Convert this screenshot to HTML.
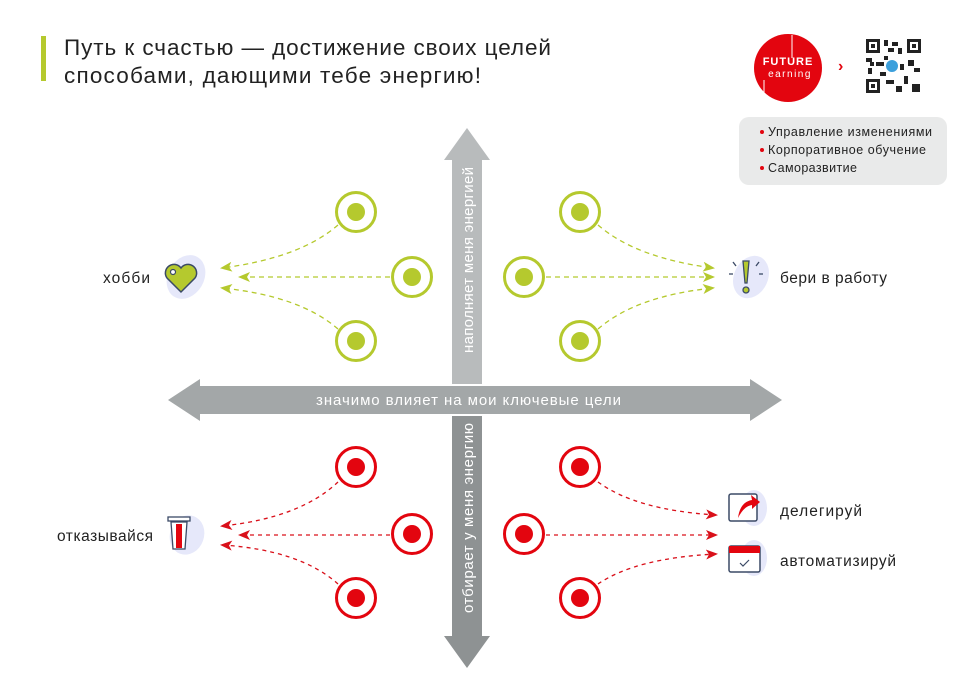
<!DOCTYPE html>
<html><head><meta charset="utf-8"><style>
body{margin:0;background:#fff;width:977px;height:689px;overflow:hidden;font-family:"Liberation Sans","DejaVu Sans",sans-serif}
</style></head><body>
<svg width="977" height="689" viewBox="0 0 977 689" xmlns="http://www.w3.org/2000/svg" font-family="Liberation Sans, DejaVu Sans, sans-serif">
<defs>
<marker id="ag" viewBox="0 0 12 10" refX="10" refY="5" markerWidth="12" markerHeight="10" markerUnits="userSpaceOnUse" orient="auto"><path d="M0,0 L12,5 L0,10 L3,5 Z" fill="#b5c92e"/></marker>
<marker id="ar" viewBox="0 0 12 10" refX="10" refY="5" markerWidth="12" markerHeight="10" markerUnits="userSpaceOnUse" orient="auto"><path d="M0,0 L12,5 L0,10 L3,5 Z" fill="#d9101a"/></marker>
</defs>
<rect x="41" y="36" width="5" height="45" fill="#b5c92e"/>
<text x="64" y="55" font-size="22.5" fill="#222" textLength="487" lengthAdjust="spacing">Путь к счастью — достижение своих целей</text>
<text x="64" y="83" font-size="22.5" fill="#222" textLength="417" lengthAdjust="spacing">способами, дающими тебе энергию!</text>
<!-- logo -->
<circle cx="788" cy="68" r="34" fill="#e3050f"/>
<line x1="792" y1="35" x2="792" y2="58" stroke="#fff" stroke-width="1"/>
<line x1="764" y1="80" x2="764" y2="98" stroke="#fff" stroke-width="1"/>
<text x="788" y="65" font-size="11" fill="#fff" text-anchor="middle" font-weight="bold" letter-spacing="1">FUTURE</text>
<text x="790" y="77" font-size="10" fill="#fff" text-anchor="middle" letter-spacing="1.5">earning</text>
<text x="838" y="71" font-size="16" fill="#e3050f" font-weight="bold">›</text>
<g fill="#222">
<rect x="865" y="38" width="58" height="56" fill="#fff"/>
<rect x="866" y="39" width="14" height="14"/><rect x="869" y="42" width="8" height="8" fill="#fff"/><rect x="871" y="44" width="4" height="4"/>
<rect x="907" y="39" width="14" height="14"/><rect x="910" y="42" width="8" height="8" fill="#fff"/><rect x="912" y="44" width="4" height="4"/>
<rect x="866" y="79" width="14" height="14"/><rect x="869" y="82" width="8" height="8" fill="#fff"/><rect x="871" y="84" width="4" height="4"/>
<rect x="884" y="40" width="4" height="6"/><rect x="892" y="42" width="6" height="4"/><rect x="898" y="48" width="4" height="6"/>
<rect x="866" y="58" width="6" height="4"/><rect x="876" y="62" width="8" height="4"/><rect x="868" y="68" width="4" height="6"/>
<rect x="908" y="60" width="6" height="6"/><rect x="914" y="68" width="6" height="4"/><rect x="904" y="76" width="4" height="8"/>
<rect x="886" y="80" width="8" height="4"/><rect x="896" y="86" width="6" height="6"/><rect x="912" y="84" width="8" height="8"/>
<rect x="884" y="56" width="4" height="4"/><rect x="880" y="72" width="6" height="4"/>
<rect x="888" y="48" width="6" height="4"/><rect x="900" y="64" width="4" height="6"/><rect x="870" y="62" width="4" height="4"/>
</g>
<circle cx="892" cy="66" r="6" fill="#3ca0dc"/>
<rect x="739" y="117" width="208" height="68" rx="10" fill="#e9eaea"/>
<g font-size="12.5" fill="#222">
<circle cx="762" cy="132" r="2" fill="#e3050f"/><text x="768" y="136" textLength="164" lengthAdjust="spacing">Управление изменениями</text>
<circle cx="762" cy="150" r="2" fill="#e3050f"/><text x="768" y="154" textLength="158" lengthAdjust="spacing">Корпоративное обучение</text>
<circle cx="762" cy="168" r="2" fill="#e3050f"/><text x="768" y="172" textLength="89" lengthAdjust="spacing">Саморазвитие</text>
</g>
<!-- axes -->
<polygon points="467,128 490,160 482,160 482,384 452,384 452,160 444,160" fill="#b8bbbc"/>
<polygon points="467,668 490,636 482,636 482,416 452,416 452,636 444,636" fill="#8e9293"/>
<polygon points="168,400 200,379 200,386 750,386 750,379 782,400 750,421 750,414 200,414 200,421" fill="#a3a7a8"/>
<text x="316" y="405" font-size="15" fill="#fff" textLength="305" lengthAdjust="spacing">значимо влияет на мои ключевые цели</text>
<text transform="translate(473,353) rotate(-90)" font-size="15" fill="#fff" textLength="186" lengthAdjust="spacing">наполняет меня энергией</text>
<text transform="translate(473,613) rotate(-90)" font-size="15" fill="#fff" textLength="190" lengthAdjust="spacing">отбирает у меня энергию</text>
<!-- green arrows -->
<g fill="none" stroke="#b5c92e" stroke-width="1.3" stroke-dasharray="5,4">
<path d="M338,225 Q300,258 222,268" marker-end="url(#ag)"/>
<path d="M390,277 L240,277" marker-end="url(#ag)"/>
<path d="M338,329 Q300,296 222,288" marker-end="url(#ag)"/>
<path d="M598,225 Q636,258 713,268" marker-end="url(#ag)"/>
<path d="M546,277 L713,277" marker-end="url(#ag)"/>
<path d="M598,329 Q636,296 713,288" marker-end="url(#ag)"/>
</g>
<g fill="none" stroke="#d9101a" stroke-width="1.3" stroke-dasharray="4,4">
<path d="M338,482 Q300,518 222,526" marker-end="url(#ar)"/>
<path d="M390,535 L240,535" marker-end="url(#ar)"/>
<path d="M338,584 Q300,550 222,545" marker-end="url(#ar)"/>
<path d="M598,482 Q636,510 716,515" marker-end="url(#ar)"/>
<path d="M546,535 L716,535" marker-end="url(#ar)"/>
<path d="M598,584 Q636,558 716,554" marker-end="url(#ar)"/>
</g>
<!-- circles -->
<g fill="#fff" stroke="#b5c92e" stroke-width="3">
<circle cx="356" cy="212" r="19.5"/><circle cx="412" cy="277" r="19.5"/><circle cx="356" cy="341" r="19.5"/>
<circle cx="580" cy="212" r="19.5"/><circle cx="524" cy="277" r="19.5"/><circle cx="580" cy="341" r="19.5"/>
</g>
<g fill="#b5c92e">
<circle cx="356" cy="212" r="9"/><circle cx="412" cy="277" r="9"/><circle cx="356" cy="341" r="9"/>
<circle cx="580" cy="212" r="9"/><circle cx="524" cy="277" r="9"/><circle cx="580" cy="341" r="9"/>
</g>
<g fill="#fff" stroke="#e3050f" stroke-width="3">
<circle cx="356" cy="467" r="19.5"/><circle cx="412" cy="534" r="19.5"/><circle cx="356" cy="598" r="19.5"/>
<circle cx="580" cy="467" r="19.5"/><circle cx="524" cy="534" r="19.5"/><circle cx="580" cy="598" r="19.5"/>
</g>
<g fill="#e3050f">
<circle cx="356" cy="467" r="9"/><circle cx="412" cy="534" r="9"/><circle cx="356" cy="598" r="9"/>
<circle cx="580" cy="467" r="9"/><circle cx="524" cy="534" r="9"/><circle cx="580" cy="598" r="9"/>
</g>
<!-- icons -->
<ellipse cx="186" cy="277" rx="18" ry="23" transform="rotate(30 186 277)" fill="#e6e8fa"/>
<path d="M181,292 L167,278 A7,7 0 0 1 181,268 A7,7 0 0 1 195,278 Z" fill="#b5c92e" stroke="#3b4a66" stroke-width="1.5"/>
<circle cx="173" cy="272" r="2.5" fill="#fff" stroke="#3b4a66" stroke-width="1.2"/>
<text x="103" y="283" font-size="15.5" fill="#222" textLength="47" lengthAdjust="spacing">хобби</text>
<ellipse cx="751" cy="277" rx="17" ry="22" transform="rotate(25 751 277)" fill="#e6e8fa"/>
<path d="M743,261 L749,261 L747,283 L745,283 Z" fill="#b5c92e" stroke="#3b4a66" stroke-width="1.3"/>
<circle cx="746" cy="290" r="3" fill="#b5c92e" stroke="#3b4a66" stroke-width="1.3"/>
<g stroke="#3b4a66" stroke-width="1.3"><line x1="733" y1="262" x2="736" y2="266"/><line x1="759" y1="262" x2="756" y2="266"/><line x1="729" y1="274" x2="733" y2="274"/><line x1="763" y1="274" x2="759" y2="274"/></g>
<text x="780" y="283" font-size="15.5" fill="#222" textLength="107" lengthAdjust="spacing">бери в работу</text>
<ellipse cx="187" cy="535" rx="17" ry="20" transform="rotate(20 187 535)" fill="#e6e8fa"/>
<rect x="168" y="517" width="22" height="4" fill="#fff" stroke="#3b4a66" stroke-width="1.3"/>
<path d="M171,522 L187,522 L185,549 L173,549 Z" fill="#fff" stroke="#3b4a66" stroke-width="1.3"/>
<rect x="176" y="524" width="6" height="24" fill="#e3050f"/>
<text x="57" y="541" font-size="15.5" fill="#222" textLength="96" lengthAdjust="spacing">отказывайся</text>
<ellipse cx="754" cy="508" rx="13" ry="18" fill="#e6e8fa"/>
<rect x="729" y="494" width="28" height="27" rx="2" fill="#fff" stroke="#3b4a66" stroke-width="1.5"/>
<path d="M738,518 Q740,502 752,500 L751,495 L760,502 L752,509 L752,505 Q744,506 738,518Z" fill="#e3050f"/>
<text x="780" y="516" font-size="15.5" fill="#222" textLength="82" lengthAdjust="spacing">делегируй</text>
<ellipse cx="754" cy="558" rx="13" ry="18" fill="#e6e8fa"/>
<rect x="729" y="546" width="31" height="26" rx="2" fill="#fff" stroke="#3b4a66" stroke-width="1.5"/>
<rect x="729" y="546" width="31" height="7" fill="#e3050f"/>
<path d="M740,563 L743,566 L749,560" fill="none" stroke="#3b4a66" stroke-width="1.2"/>
<text x="780" y="566" font-size="15.5" fill="#222" textLength="116" lengthAdjust="spacing">автоматизируй</text>
</svg>
</body></html>
